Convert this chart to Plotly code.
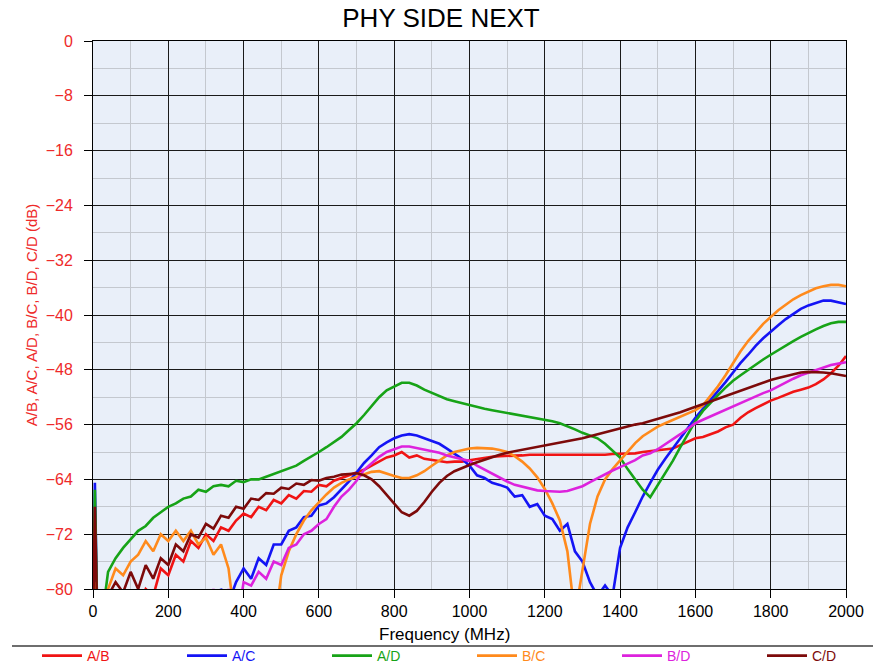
import plotly.graph_objects as go

# Frequency grid (MHz)
freq = [0, 5, 12] + list(range(20, 2001, 20))

ab = [-86, -70, -86,
      -86, -86, -86, -86, -86, -83, -80, -81, -77, -78,
      -75, -76, -73, -74, -72, -73, -71, -71.5, -70, -69,
      -69.5, -68, -68.5, -67, -67.5, -66.3, -66.8, -65.7, -65.8, -64.8,
      -65, -64.2, -63.8, -63.5, -63, -62.6, -62, -61.4, -60.8, -60.5,
      -60, -60.8, -60.5, -61, -61.2, -61.4, -61.5, -61.4, -61.4, -61.2,
      -61, -60.8, -60.7, -60.6, -60.6, -60.5, -60.5, -60.4, -60.4, -60.4,
      -60.5, -60.4, -60.4, -60.5, -60.4, -60.4, -60.5, -60.4, -60.3, -60.3,
      -60.2, -60.2, -60, -59.9, -59.8, -59.7, -59.5, -59, -58.5, -58,
      -57.8, -57.4, -57, -56.4, -56, -55, -54.2, -53.6, -53, -52.5,
      -52.1, -51.6, -51.2, -50.9, -50.6, -50.1, -49.4, -48.5, -47.4, -46]

ac = [-86, -64.5, -86,
      -86, -86, -86, -86, -86, -86, -86, -86, -86, -86,
      -86, -86, -86, -86, -86, -84, -80, -82, -79, -77,
      -78.5, -75.5, -76.5, -73.5, -73.5, -71.5, -71, -69.5, -69.3, -67.8,
      -67.5, -66.6, -65.5, -64.3, -63, -61.6, -60.5, -59.3, -58.6, -58,
      -57.6, -57.4, -57.6, -58, -58.3, -58.8, -59.5, -60.2, -61, -62,
      -63.4, -63.8, -64.5, -64.8, -65.2, -66.5, -66.3, -68, -67.6, -69.3,
      -69.8, -71.5, -70.5, -74.5, -76, -79, -81, -79.5, -81, -74,
      -71, -68.8, -66.5, -64.5, -62.6, -61, -59.5, -58, -56.5, -55,
      -53.7, -52.4, -51.2, -49.8, -48.4, -47, -45.8, -44.5, -43.4, -42.4,
      -41.5, -40.6, -39.8, -39.1, -38.6, -38.2, -37.9, -37.9, -38.1, -38.4]

ad = [-86, -65.5, -86,
      -86, -77.5, -75.5, -74, -72.8, -71.5, -70.8, -69.6, -68.8, -68,
      -67.5, -66.8, -66.5, -65.5, -65.8, -65, -64.8, -65, -64.2, -64.4,
      -64, -64, -63.6, -63.2, -62.9, -62.5, -62, -61.3, -60.7, -60,
      -59.3, -58.5, -57.8, -56.8, -55.8, -54.6, -53.3, -52, -51, -50.4,
      -49.9, -49.9, -50.3, -50.9, -51.4, -51.8, -52.3, -52.6, -52.9, -53.2,
      -53.5, -53.7, -53.9, -54.1, -54.3, -54.4, -54.6, -54.8, -55, -55.2,
      -55.5, -55.8, -56.2, -56.7, -57.2, -57.6, -58, -58.8, -59.8, -60.8,
      -62.5, -64, -65.5, -66.6, -64.8, -63.2, -61.3, -59.3, -57.3, -55.5,
      -54, -52.8, -51.7, -50.6, -49.6, -48.8, -48, -47.2, -46.5, -45.8,
      -45.1, -44.4, -43.8, -43.2, -42.6, -42.1, -41.6, -41.2, -41, -41]

bc = [-86, -79, -86,
      -86, -80, -77, -78, -76, -75, -73, -74.5, -72, -73,
      -71.5, -73, -71.5, -73.5, -72.5, -75, -73.5, -77, -86, -86,
      -86, -86, -86, -86, -78, -74.5, -72, -70, -68.5, -67.3,
      -66.2, -65.2, -64.5, -64, -63.6, -63.2, -62.9, -62.8, -63.2, -63.5,
      -63.8, -63.8, -63.4, -62.8, -62, -61.2, -60.5, -60, -59.7, -59.5,
      -59.4, -59.4, -59.5, -59.7, -60, -60.6, -61.4, -62.4, -63.7, -65.4,
      -67.5, -70, -74.5, -84, -77, -70.5, -66.5, -64, -62.5, -61.2,
      -60, -58.7, -57.7, -57, -56.3, -55.8, -55.3, -54.9, -54.4, -53.9,
      -53.2, -51.8, -50.4, -48.8, -47, -45.3, -43.8, -42.5, -41.3, -40.3,
      -39.3, -38.5, -37.7, -37.1, -36.6, -36.1, -35.8, -35.6, -35.6, -35.8]

bd = [-86, -80, -86,
      -86, -86, -86, -86, -86, -86, -86, -86, -86, -86,
      -86, -84, -86, -86, -86, -80, -84, -80, -86, -79,
      -79.5, -77.5, -78.5, -76, -76.5, -74, -73.5, -72, -71.5, -70.5,
      -69.8, -68, -66.5, -65.5, -64.2, -62.6, -61.6, -60.7, -60, -59.6,
      -59.2, -59.2, -59.4, -59.6, -59.8, -60.1, -60.5, -60.8, -61, -61.3,
      -62, -62.6, -63.2, -63.8, -64.3, -64.8, -65.1, -65.4, -65.6, -65.7,
      -65.8, -65.8, -65.7, -65.4, -65, -64.4, -63.8, -63.2, -62.7, -62.2,
      -61.7, -61.2, -60.5, -60.2, -59.6, -58.9, -58.2, -57.4, -56.6, -55.8,
      -55.3, -54.8, -54.3, -53.8, -53.4, -52.9, -52.4, -51.9, -51.4, -51,
      -50.4, -49.8, -49.3, -48.8, -48.4, -48, -47.6, -47.3, -47.1, -46.9]

cd = [-86, -68, -86,
      -86, -81, -79, -80.5, -77.5, -80, -76.5, -78.5, -75.5, -76.5,
      -73.5, -74.5, -72, -72.5, -70.5, -71.2, -69.3, -69.6, -68, -68.3,
      -66.8, -67, -66, -66.1, -65.2, -65.4, -64.6, -64.8, -64.1, -64.2,
      -63.8, -63.6, -63.3, -63.2, -63.1, -63.4, -64, -65, -66.3, -67.6,
      -68.8, -69.3, -68.6, -67.3, -65.8, -64.5, -63.5, -62.8, -62.3, -61.9,
      -61.5, -61.1, -60.8, -60.4, -60.1, -59.9, -59.6, -59.4, -59.2, -59,
      -58.9, -58.7, -58.5, -58.3, -58, -57.7, -57.4, -57.1, -56.8, -56.6,
      -56.3, -56, -55.8, -55.5, -55.2, -54.9, -54.6, -54.2, -53.8, -53.4,
      -53, -52.6, -52.2, -51.8, -51.4, -51, -50.6, -50.2, -49.8, -49.5,
      -49.2, -48.9, -48.6, -48.4, -48.3, -48.3, -48.4, -48.5, -48.7, -48.9]

series_names = ["A/B", "A/C", "A/D", "B/C", "B/D", "C/D"]
series_values = [ab, ac, ad, bc, bd, cd]
series_colors = ["#f01414", "#1414f5", "#17a317", "#ff8a1c", "#dd22dd", "#7d0a0a"]

y_ticks = [0, -8, -16, -24, -32, -40, -48, -56, -64, -72, -80]
x_ticks = [0, 200, 400, 600, 800, 1000, 1200, 1400, 1600, 1800, 2000]

FONT = "Liberation Sans, Arial, sans-serif"

# The page body has an 8px margin, so the figure is sized to fit the
# 881x667 window when drawn at (8, 8).
OFF = 8
W, H = 881 - OFF, 667 - OFF
PL, PR, PT, PB = 93 - OFF, 846 - OFF, 41 - OFF, 589 - OFF   # plot area (figure px)
PW, PH = PR - PL, PB - PT


def px_x(page_x):
    return (page_x - OFF - PL) / PW


def px_y(page_y):
    return (PB - (page_y - OFF)) / PH


fig = go.Figure()
for i, (name, vals, col) in enumerate(zip(series_names, series_values, series_colors)):
    assert len(vals) == len(freq), name
    fig.add_trace(go.Scatter(
        x=freq, y=vals, mode="lines",
        name=f"<span style='color:{col}'>{name}</span>",
        line=dict(color=col, width=2.6),
        legend="legend" if i < 3 else "legend2",
    ))

leg_common = dict(orientation="h", xanchor="left",
                  y=px_y(656), yanchor="middle",
                  entrywidth=90, entrywidthmode="pixels",
                  itemwidth=40,
                  font=dict(family=FONT, size=14),
                  bgcolor="rgba(0,0,0,0)", borderwidth=0)

fig.update_layout(
    width=W, height=H,
    margin=dict(l=PL, r=W - PR, t=PT, b=H - PB, autoexpand=False),
    paper_bgcolor="white",
    plot_bgcolor="#e9eff9",
    font=dict(family=FONT, size=16, color="black"),
    title=dict(text="PHY SIDE NEXT", x=(441 - OFF) / W, xanchor="center",
               y=1 - (18 - OFF) / H, yanchor="middle",
               font=dict(family=FONT, size=26, color="black")),
    showlegend=True,
    legend=dict(x=px_x(37), **leg_common),
    legend2=dict(x=px_x(472), **leg_common),
    shapes=[dict(type="line", xref="paper", yref="paper",
                 x0=px_x(12), x1=px_x(876),
                 y0=px_y(646), y1=px_y(646),
                 line=dict(color="#6e6e6e", width=2))],
    annotations=[dict(text="Frequency (MHz)", xref="paper", yref="paper",
                      x=px_x(444), y=px_y(634),
                      xanchor="center", yanchor="middle", showarrow=False,
                      font=dict(family=FONT, size=17, color="black"))],
)

fig.update_xaxes(
    range=[0, 2000], tickvals=x_ticks,
    ticks="outside", ticklen=8, tickcolor="black", tickwidth=1,
    showline=True, linecolor="black", linewidth=1, mirror=True,
    showgrid=True, gridcolor="#1a1a1a", gridwidth=1,
    minor=dict(dtick=100, showgrid=True, gridcolor="#c4c8cf", gridwidth=1),
    zeroline=False,
    tickfont=dict(family=FONT, size=16, color="black"),
)
fig.update_yaxes(
    range=[-80, 0], tickvals=y_ticks,
    ticks="outside", ticklen=8, tickcolor="black", tickwidth=1,
    showline=True, linecolor="black", linewidth=1, mirror=True,
    showgrid=True, gridcolor="#1a1a1a", gridwidth=1,
    minor=dict(dtick=4, tick0=0, showgrid=True, gridcolor="#c4c8cf", gridwidth=1),
    zeroline=False,
    ticklabelstandoff=8,
    tickfont=dict(family=FONT, size=16, color="#ee2a2a"),
    title=dict(text="A/B, A/C, A/D, B/C, B/D, C/D (dB)", standoff=4,
               font=dict(family=FONT, size=15, color="#ee2a2a")),
)

fig.write_html("out.html")
